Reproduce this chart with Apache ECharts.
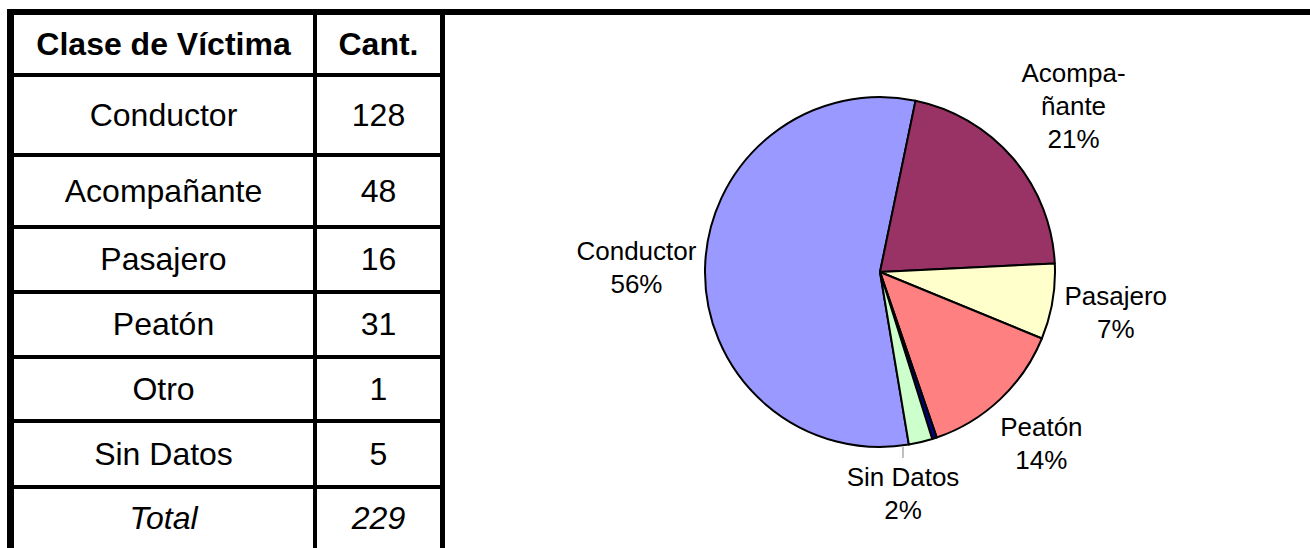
<!DOCTYPE html>
<html>
<head>
<meta charset="utf-8">
<script src="https://cdn.jsdelivr.net/npm/echarts@6/dist/echarts.min.js"></script>
<style>
  html, body { margin: 0; padding: 0; background: #fff; width: 1310px; height: 548px; overflow: hidden; }
  .ln { position: absolute; background: #000; }
  .cell { position: absolute; display: flex; align-items: center; justify-content: center;
          font-family: "Liberation Sans", Arial, sans-serif; font-size: 32px; color: #000; white-space: nowrap; }
  #chart { position: absolute; left: 445px; top: 15px; width: 865px; height: 533px; }
</style>
</head>
<body>
<div id="table"></div>
<div id="chart"></div>
<script>
// ---- data ----
const headers = ['Clase de Víctima', 'Cant.'];
const categories = ['Conductor', 'Acompañante', 'Pasajero', 'Peatón', 'Otro', 'Sin Datos'];
const counts = [128, 48, 16, 31, 1, 5];
const totalLabel = 'Total';
const pieLabelNames = ['Conductor', 'Acompa-\nñante', 'Pasajero', 'Peatón', '', 'Sin Datos'];

// ---- styles / layout ----
const sliceColors = ['#9999FF', '#993366', '#FFFFCC', '#FF8080', '#000080', '#CCFFCC'];
const rowLineTops = [73, 153, 225, 290, 355, 419, 485];
const LINE = 4;
const TABLE_TOP = 15, TABLE_BOTTOM = 548;
const COL1_L = 14, COL1_R = 313, COL2_L = 317, COL2_R = 440;

// frame & table
const t = document.getElementById('table');
function addDiv(cls, style, text, extra) {
  const d = document.createElement('div');
  d.className = cls;
  Object.assign(d.style, style);
  if (text !== undefined) d.textContent = text;
  if (extra) Object.assign(d.style, extra);
  t.appendChild(d);
}
// outer frame: top and left thick borders
addDiv('ln', {left: '7px', top: '9px', width: '1303px', height: '6px'});
addDiv('ln', {left: '7px', top: '9px', width: '7px', height: '539px'});
// table right border and column divider
addDiv('ln', {left: '440px', top: '9px', width: '5px', height: '539px'});
addDiv('ln', {left: COL1_R + 'px', top: '15px', width: LINE + 'px', height: '533px'});
rowLineTops.forEach(y => addDiv('ln', {left: COL1_L + 'px', top: y + 'px', width: (COL2_R - COL1_L) + 'px', height: LINE + 'px'}));

const total = counts.reduce((a, b) => a + b, 0);
const rows = [headers].concat(categories.map((c, i) => [c, String(counts[i])])).concat([[totalLabel, String(total)]]);
const bounds = [TABLE_TOP].concat(rowLineTops.map(y => y + LINE));
const ends = rowLineTops.concat([TABLE_BOTTOM]);
rows.forEach((r, i) => {
  const top = bounds[i], h = ends[i] - bounds[i];
  const extra = i === 0 ? {fontWeight: 'bold'} : (i === rows.length - 1 ? {fontStyle: 'italic'} : null);
  addDiv('cell', {left: COL1_L + 'px', top: top + 'px', width: (COL1_R - COL1_L) + 'px', height: h + 'px'}, r[0], extra);
  addDiv('cell', {left: COL2_L + 'px', top: top + 'px', width: (COL2_R - COL2_L) + 'px', height: h + 'px'}, r[1], extra);
});

// ---- pie ----
const CX = 435, CY = 257, R = 175;
const START_CW = 170.5;           // clockwise-from-top angle where first slice begins
const GAP = 8;
const labelShiftX = [0, 0, 0, 0, 0, -30];
const LEADER_INDEX = 5;

const midAngles = [];
(function () {
  let a = START_CW;
  counts.forEach(v => {
    const span = v / total * 360;
    midAngles.push(a + span / 2);
    a += span;
  });
})();

const chart = echarts.init(document.getElementById('chart'), null, {renderer: 'svg'});
chart.setOption({
  animation: false,
  series: [{
    type: 'pie',
    center: [CX, CY],
    radius: R,
    startAngle: 90 - START_CW,
    clockwise: true,
    avoidLabelOverlap: false,
    silent: true,
    itemStyle: {borderColor: '#000', borderWidth: 2},
    label: {
      show: true,
      position: 'outside',
      color: '#000',
      fontFamily: '"Liberation Sans", Arial, sans-serif',
      fontSize: 26,
      lineHeight: 33,
      align: 'center',
      formatter: p => pieLabelNames[p.dataIndex] + '\n' + Math.round(p.value / total * 100) + '%'
    },
    labelLine: {show: false},
    labelLayout: function (p) {
      const i = p.dataIndex;
      const a = midAngles[i] * Math.PI / 180;
      const ux = Math.sin(a), uy = -Math.cos(a);
      const w = p.labelRect.width, h = p.labelRect.height;
      const ext = Math.abs(ux) * w / 2 + Math.abs(uy) * h / 2;
      const d = R + GAP + ext;
      const x = CX + ux * d + labelShiftX[i];
      const y = CY + uy * d;
      const res = {x: x, y: y, align: 'center', verticalAlign: 'middle'};
      if (i === LEADER_INDEX) {
        const top = y - h / 2;
        const ey = CY + Math.sqrt(R * R - (x - CX) * (x - CX));
        res.labelLinePoints = [[x, ey + 1.5], [x, top - 3], [x, top - 3]];
      }
      return res;
    },
    data: categories.map((c, i) => ({
      name: c,
      value: counts[i],
      itemStyle: {color: sliceColors[i]},
      label: {show: pieLabelNames[i] !== ''},
      labelLine: {show: i === LEADER_INDEX, length: 5, length2: 5, lineStyle: {color: '#808080', width: 1}}
    }))
  }]
});
</script>
</body>
</html>
